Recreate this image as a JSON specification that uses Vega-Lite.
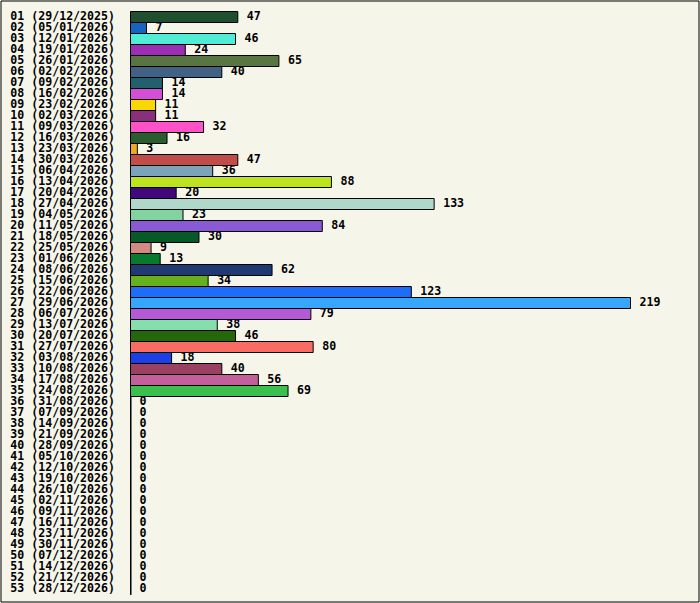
{
  "$schema": "https://vega.github.io/schema/vega-lite/v6.json",
  "description": "Weekly counts, horizontal bars, one colour per week.",
  "width": 698,
  "height": 601,
  "autosize": {"type": "none"},
  "padding": {"left": 0.5, "top": 0.5, "right": 1.5, "bottom": 1.5},
  "background": "#f5f5ea",
  "data": {
    "values": [
      {"week": "01 (29/12/2025)", "count": 47},
      {"week": "02 (05/01/2026)", "count": 7},
      {"week": "03 (12/01/2026)", "count": 46},
      {"week": "04 (19/01/2026)", "count": 24},
      {"week": "05 (26/01/2026)", "count": 65},
      {"week": "06 (02/02/2026)", "count": 40},
      {"week": "07 (09/02/2026)", "count": 14},
      {"week": "08 (16/02/2026)", "count": 14},
      {"week": "09 (23/02/2026)", "count": 11},
      {"week": "10 (02/03/2026)", "count": 11},
      {"week": "11 (09/03/2026)", "count": 32},
      {"week": "12 (16/03/2026)", "count": 16},
      {"week": "13 (23/03/2026)", "count": 3},
      {"week": "14 (30/03/2026)", "count": 47},
      {"week": "15 (06/04/2026)", "count": 36},
      {"week": "16 (13/04/2026)", "count": 88},
      {"week": "17 (20/04/2026)", "count": 20},
      {"week": "18 (27/04/2026)", "count": 133},
      {"week": "19 (04/05/2026)", "count": 23},
      {"week": "20 (11/05/2026)", "count": 84},
      {"week": "21 (18/05/2026)", "count": 30},
      {"week": "22 (25/05/2026)", "count": 9},
      {"week": "23 (01/06/2026)", "count": 13},
      {"week": "24 (08/06/2026)", "count": 62},
      {"week": "25 (15/06/2026)", "count": 34},
      {"week": "26 (22/06/2026)", "count": 123},
      {"week": "27 (29/06/2026)", "count": 219},
      {"week": "28 (06/07/2026)", "count": 79},
      {"week": "29 (13/07/2026)", "count": 38},
      {"week": "30 (20/07/2026)", "count": 46},
      {"week": "31 (27/07/2026)", "count": 80},
      {"week": "32 (03/08/2026)", "count": 18},
      {"week": "33 (10/08/2026)", "count": 40},
      {"week": "34 (17/08/2026)", "count": 56},
      {"week": "35 (24/08/2026)", "count": 69},
      {"week": "36 (31/08/2026)", "count": 0},
      {"week": "37 (07/09/2026)", "count": 0},
      {"week": "38 (14/09/2026)", "count": 0},
      {"week": "39 (21/09/2026)", "count": 0},
      {"week": "40 (28/09/2026)", "count": 0},
      {"week": "41 (05/10/2026)", "count": 0},
      {"week": "42 (12/10/2026)", "count": 0},
      {"week": "43 (19/10/2026)", "count": 0},
      {"week": "44 (26/10/2026)", "count": 0},
      {"week": "45 (02/11/2026)", "count": 0},
      {"week": "46 (09/11/2026)", "count": 0},
      {"week": "47 (16/11/2026)", "count": 0},
      {"week": "48 (23/11/2026)", "count": 0},
      {"week": "49 (30/11/2026)", "count": 0},
      {"week": "50 (07/12/2026)", "count": 0},
      {"week": "51 (14/12/2026)", "count": 0},
      {"week": "52 (21/12/2026)", "count": 0},
      {"week": "53 (28/12/2026)", "count": 0}
    ]
  },
  "encoding": {
    "y": {
      "field": "week",
      "type": "nominal",
      "sort": null,
      "title": null,
      "scale": {"range": [11, 594], "paddingInner": 0, "paddingOuter": 0},
      "axis": {
        "orient": "left",
        "offset": -130,
        "domain": true,
        "domainColor": "#000000",
        "domainWidth": 1,
        "ticks": false,
        "grid": false,
        "labelPadding": 16,
        "labelFont": "DejaVu Sans Mono",
        "labelFontWeight": "bold",
        "labelFontSize": 11.6,
        "labelColor": "#000000"
      }
    },
    "x": {
      "field": "count",
      "type": "quantitative",
      "scale": {"domain": [0, 219], "range": [130, 630], "nice": false, "zero": true},
      "axis": null
    }
  },
  "layer": [
    {
      "mark": {"type": "bar", "stroke": "#000000", "strokeWidth": 1, "opacity": 1},
      "encoding": {
        "color": {
          "field": "week",
          "type": "nominal",
          "legend": null,
          "scale": {
            "range": [
              "#1f4f2f", "#1565c0", "#50ecd5", "#9c2db5", "#587542",
              "#416285", "#22606e", "#d54fd6", "#f8d800", "#8a2f7c",
              "#ff52c8", "#2b5c30", "#f0a820", "#c24d48", "#7ba4bb",
              "#bde31e", "#40087b", "#afd8cb", "#82d3a0", "#8a5ad4",
              "#075a25", "#d48a80", "#077a30", "#1f3a73", "#65b01d",
              "#1e6cfa", "#36a7fb", "#b55ad6", "#85dfad", "#25680a",
              "#f96c63", "#1c3fe6", "#9a4163", "#c55f9c", "#3bc04d"
            ]
          }
        }
      }
    },
    {
      "mark": {
        "type": "text",
        "align": "left",
        "baseline": "middle",
        "dx": 9,
        "font": "DejaVu Sans Mono",
        "fontWeight": "bold",
        "fontSize": 11.6,
        "color": "#000000"
      },
      "encoding": {
        "text": {"field": "count", "type": "quantitative"}
      }
    }
  ],
  "config": {
    "view": {"stroke": "#000000", "strokeWidth": 1},
    "axis": {"grid": false}
  }
}
